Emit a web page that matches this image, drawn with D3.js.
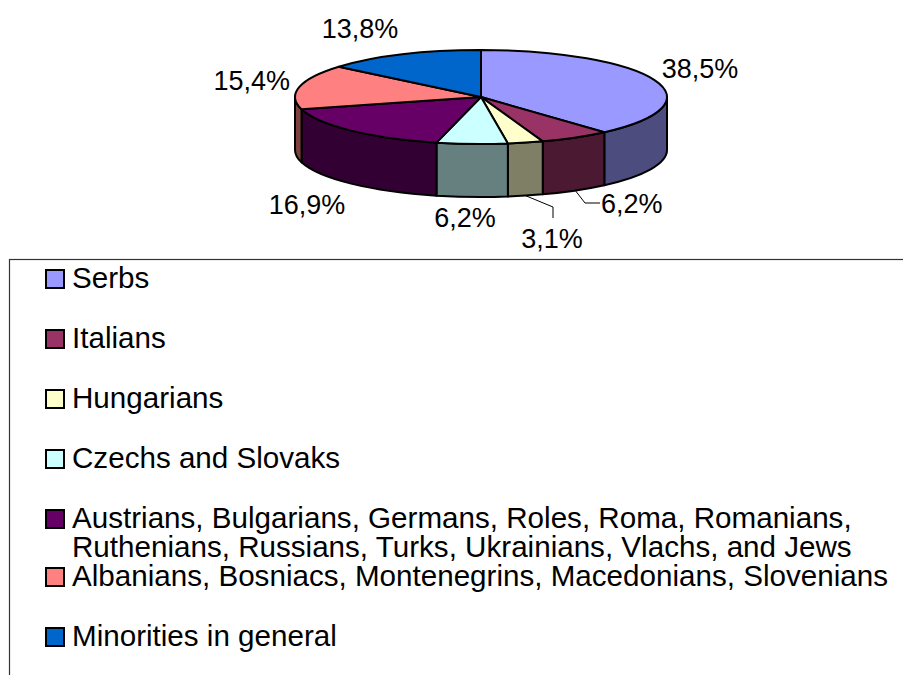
<!DOCTYPE html>
<html>
<head>
<meta charset="utf-8">
<script src="https://cdn.jsdelivr.net/npm/d3@7"></script>
<style>
  body { margin: 0; background: #fff; }
  svg { display: block; font-family: "Liberation Sans", Arial, sans-serif; }
</style>
</head>
<body>
<div id="chart"></div>
<script>
// data (counts out of 65)
var categories = ["Serbs", "Italians", "Hungarians", "Czechs and Slovaks",
  "Austrians, Bulgarians, Germans, Roles, Roma, Romanians, Ruthenians, Russians, Turks, Ukrainians, Vlachs, and Jews",
  "Albanians, Bosniacs, Montenegrins, Macedonians, Slovenians",
  "Minorities in general"];
var counts = [25, 4, 2, 4, 11, 10, 9];
var colors = ["#9999FF", "#993366", "#FFFFCC", "#CCFFFF", "#660066", "#FF8080", "#0066CC"];

const svgWidth = 903;
const svgHeight = 675;

// pie geometry
const cx = 481, cy = 97, rx = 186, ry = 47, depth = 53;

// where Excel put the value labels: [x, baseline, anchor]
var labelPos = [
  [700, 78, "middle"],
  [601, 213, "start"],
  [552, 248, "middle"],
  [465, 227, "middle"],
  [307, 214, "middle"],
  [290, 90, "end"],
  [360, 38, "middle"]
];

var locale = d3.formatLocale({decimal: ",", thousands: ".", grouping: [3], currency: ["", ""]});
var pct = locale.format(".1%");

var svg = d3.select("#chart").append("svg")
  .attr("width", svgWidth)
  .attr("height", svgHeight);

function pt(t, dy) {
  return [cx + rx * Math.sin(t), cy - ry * Math.cos(t) + (dy || 0)];
}

function sideColor(c) {
  var r = d3.rgb(c);
  return d3.rgb(Math.floor(r.r / 2), Math.floor(r.g / 2), Math.floor(r.b / 2)).formatHex();
}

var total = d3.sum(counts);
var arcs = d3.pie().sort(null).value(d => d)(counts);

// side walls (only the front half, t between 90 and 270 degrees)
var g = svg.append("g");
arcs.forEach(function(a, i) {
  var s = Math.max(a.startAngle, Math.PI / 2);
  var e = Math.min(a.endAngle, 3 * Math.PI / 2);
  if (e <= s) return;
  var p1 = pt(s), p2 = pt(e), p3 = pt(e, depth), p4 = pt(s, depth);
  var path = "M" + p1 + " A" + rx + "," + ry + " 0 0 1 " + p2 +
    " L" + p3 + " A" + rx + "," + ry + " 0 0 0 " + p4 + " Z";
  g.append("path")
    .attr("d", path)
    .style("fill", sideColor(colors[i]))
    .style("stroke", "#000")
    .style("stroke-width", 2)
    .style("stroke-linejoin", "round");
});

// top faces
arcs.forEach(function(a, i) {
  var p1 = pt(a.startAngle), p2 = pt(a.endAngle);
  var large = (a.endAngle - a.startAngle) > Math.PI ? 1 : 0;
  var path = "M" + cx + "," + cy + " L" + p1 + " A" + rx + "," + ry + " 0 " + large + " 1 " + p2 + " Z";
  g.append("path")
    .attr("d", path)
    .style("fill", colors[i])
    .style("stroke", "#000")
    .style("stroke-width", 2)
    .style("stroke-linejoin", "round");
});

// labels
arcs.forEach(function(a, i) {
  var lp = labelPos[i];
  g.append("text")
    .attr("x", lp[0])
    .attr("y", lp[1])
    .attr("text-anchor", lp[2])
    .style("font-size", "27px")
    .style("fill", "#000")
    .text(pct(counts[i] / total));
});

// leader lines for the two small front slices
function leader(i, pts) {
  var mid = (arcs[i].startAngle + arcs[i].endAngle) / 2;
  var start = pt(mid, depth);
  g.append("path")
    .attr("d", d3.line()([start].concat(pts)))
    .style("fill", "none")
    .style("stroke", "#000")
    .style("stroke-width", 1);
}
leader(1, [[labelPos[1][0] - 16, labelPos[1][1] - 10], [labelPos[1][0] - 1, labelPos[1][1] - 10]]);
leader(2, [[labelPos[2][0] + 1, labelPos[2][1] - 41], [labelPos[2][0] + 1, labelPos[2][1] - 30]]);

// legend box (runs off the page on the right and bottom)
svg.append("rect")
  .attr("x", 9.5)
  .attr("y", 259.5)
  .attr("width", 1000)
  .attr("height", 500)
  .style("fill", "none")
  .style("stroke", "#333")
  .style("stroke-width", 1.2);

var legend = svg.append("g");
var maxLine = 840;
var y = 288;
categories.forEach(function(c, i) {
  // word wrap like the original legend
  var t = legend.append("text")
    .attr("x", 72)
    .style("font-size", "29.6px")
    .style("fill", "#000");
  var words = c.split(" ");
  var lines = [];
  var cur = "";
  words.forEach(function(w) {
    var test = cur ? cur + " " + w : w;
    t.text(test);
    if (t.node().getComputedTextLength() > maxLine && cur) {
      lines.push(cur);
      cur = w;
    } else {
      cur = test;
    }
  });
  lines.push(cur);
  t.text(null);
  lines.forEach(function(l, k) {
    t.append("tspan").attr("x", 72).attr("y", y + k * 29).text(l);
  });

  legend.append("rect")
    .attr("x", 46)
    .attr("y", y - 18)
    .attr("width", 18)
    .attr("height", 18)
    .style("fill", colors[i])
    .style("stroke", "#000")
    .style("stroke-width", 2);

  y += lines.length > 1 ? 29 * lines.length : 60;
});
</script>
</body>
</html>
